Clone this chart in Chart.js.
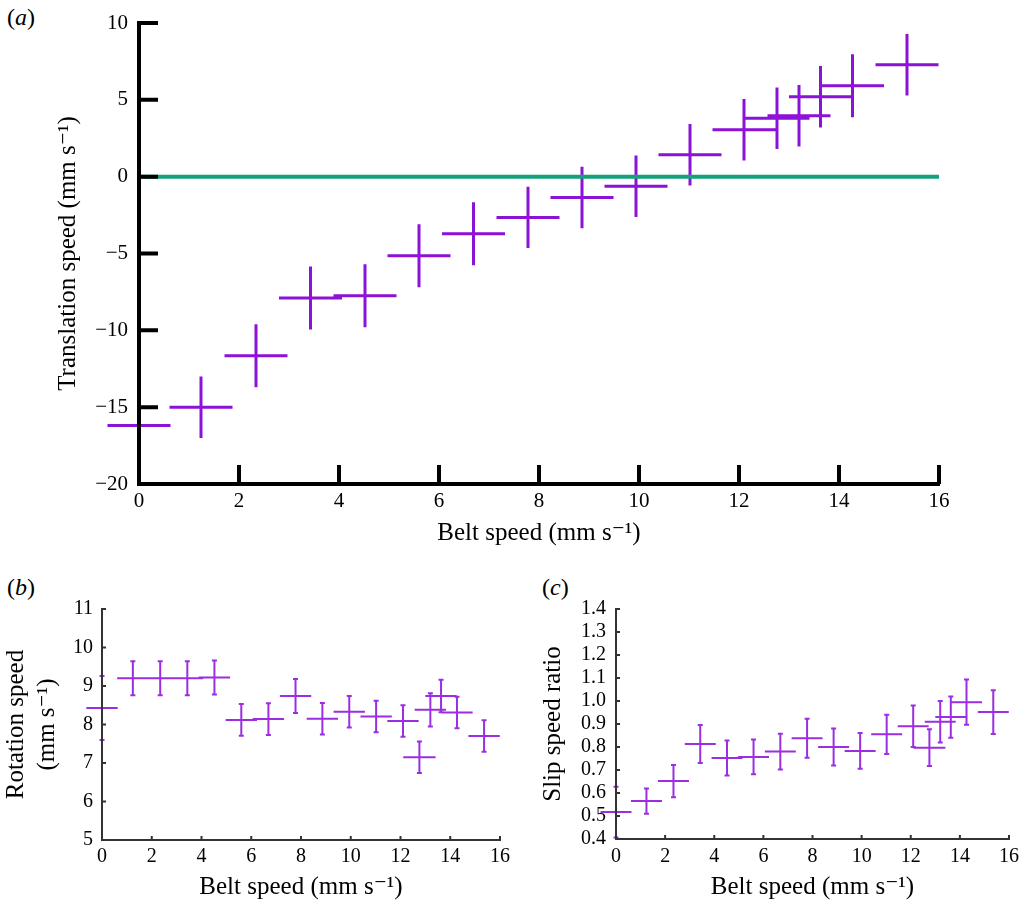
<!DOCTYPE html>
<html>
<head>
<meta charset="utf-8">
<script src="https://cdn.jsdelivr.net/npm/chart.js@4"></script>
<style>
  body { margin: 0; background: #fff; }
  #page { position: relative; width: 1025px; height: 902px; font-family: 'Liberation Serif', 'Times New Roman', 'DejaVu Serif', serif; }
  canvas { position: absolute; }
  .tag { position: absolute; font-size: 24px; color: #000; }
</style>
</head>
<body>
<div id="page">
  <div class="tag" style="left:7px;top:4px">(<i>a</i>)</div>
  <div class="tag" style="left:7px;top:574px">(<i>b</i>)</div>
  <div class="tag" style="left:542px;top:574px">(<i>c</i>)</div>
  <canvas id="chartA" width="1025" height="560" style="left:0;top:0"></canvas>
  <canvas id="chartB" width="515" height="332" style="left:0;top:570px"></canvas>
  <canvas id="chartC" width="510" height="332" style="left:515px;top:570px"></canvas>
</div>
<script>
// belt speed (shared by the three panels) and its half-range
var beltSpeed = [0, 1.24, 2.34, 3.43, 4.52, 5.6, 6.69, 7.78, 8.86, 9.94, 11.02, 12.1, 12.76, 13.2, 13.63, 14.27, 15.36];
var beltErr = [0.63, 0.63, 0.63, 0.63, 0.63, 0.63, 0.63, 0.63, 0.63, 0.63, 0.63, 0.63, 0.65, 0.63, 0.63, 0.63, 0.63];

// (a) translation speed
var transSpeed = [-16.2, -15.0, -11.65, -7.9, -7.75, -5.15, -3.72, -2.65, -1.35, -0.63, 1.43, 3.05, 3.8, 3.97, 5.2, 5.92, 7.29];
var transErr = [0.9, 2.0, 2.05, 2.05, 2.05, 2.05, 2.05, 2.0, 2.0, 2.0, 2.0, 2.0, 2.0, 2.0, 2.0, 2.05, 2.0];
var zeroLineX = [0, 16];
var zeroLineY = [0, 0];

// (b) rotation speed
var rotSpeed = [8.43, 9.2, 9.2, 9.2, 9.22, 8.12, 8.14, 8.74, 8.15, 8.33, 8.21, 8.09, 7.15, 8.38, 8.74, 8.31, 7.7];
var rotErr = [0.83, 0.44, 0.44, 0.44, 0.44, 0.41, 0.41, 0.44, 0.41, 0.41, 0.41, 0.41, 0.41, 0.43, 0.42, 0.41, 0.41];

// (c) slip speed ratio
var slipRatio = [0.517, 0.565, 0.652, 0.813, 0.752, 0.757, 0.78, 0.838, 0.8, 0.783, 0.855, 0.89, 0.797, 0.91, 0.93, 0.995, 0.952];
var slipErr = [0.11, 0.055, 0.07, 0.083, 0.076, 0.076, 0.078, 0.085, 0.08, 0.078, 0.085, 0.09, 0.08, 0.09, 0.09, 0.098, 0.095];

var unit = ' (mm s\u207B\u00B9)';
var serif = "'Liberation Serif', 'Times New Roman', 'DejaVu Serif', serif";

function points(ys) {
    return beltSpeed.map(function (x, i) { return { x: x, y: ys[i] }; });
}

// crosses: horizontal bar = belt speed range, vertical bar = value range
var errorBars = {
    id: 'errorBars',
    beforeDatasetsDraw: function (chart) {
        var ctx = chart.ctx, sx = chart.scales.x, sy = chart.scales.y;
        chart.data.datasets.forEach(function (ds) {
            if (!ds.yErr) return;
            ctx.save();
            ctx.strokeStyle = ds.borderColor;
            ctx.lineWidth = ds.errWidth;
            ctx.beginPath();
            ds.data.forEach(function (p, i) {
                var px = sx.getPixelForValue(p.x), py = sy.getPixelForValue(p.y);
                var y0 = sy.getPixelForValue(p.y - ds.yErr[i]), y1 = sy.getPixelForValue(p.y + ds.yErr[i]);
                ctx.moveTo(sx.getPixelForValue(p.x - ds.xErr[i]), py);
                ctx.lineTo(sx.getPixelForValue(p.x + ds.xErr[i]), py);
                ctx.moveTo(px, y0);
                ctx.lineTo(px, y1);
                if (ds.cap) {
                    ctx.moveTo(px - ds.cap, y0); ctx.lineTo(px + ds.cap, y0);
                    ctx.moveTo(px - ds.cap, y1); ctx.lineTo(px + ds.cap, y1);
                }
            });
            ctx.stroke();
            ctx.restore();
        });
    }
};

// tick marks pointing into the plot
var inTicks = {
    id: 'inTicks',
    afterDraw: function (chart, args, opts) {
        var ctx = chart.ctx, a = chart.chartArea, sx = chart.scales.x, sy = chart.scales.y;
        ctx.save();
        ctx.strokeStyle = opts.color;
        ctx.lineWidth = opts.width;
        ctx.beginPath();
        sx.ticks.forEach(function (t, i) {
            if (i === 0) return;
            var px = sx.getPixelForTick(i);
            ctx.moveTo(px, a.bottom); ctx.lineTo(px, a.bottom - opts.len);
        });
        sy.ticks.forEach(function (t, i) {
            if (i === 0) return;
            var py = sy.getPixelForTick(i);
            ctx.moveTo(a.left, py); ctx.lineTo(a.left + opts.len, py);
        });
        ctx.stroke();
        ctx.restore();
    }
};

function makeChart(id, c) {
    var datasets = [{
        type: 'scatter',
        data: points(c.values),
        xErr: beltErr,
        yErr: c.errors,
        borderColor: c.color,
        backgroundColor: c.color,
        errWidth: c.lineWidth,
        cap: c.cap,
        pointRadius: 0
    }];
    if (c.extra) datasets.push(c.extra);

    return new Chart(document.getElementById(id).getContext('2d'), {
        type: 'scatter',
        data: { datasets: datasets },
        plugins: [errorBars, inTicks],
        options: {
            responsive: false,
            animation: false,
            layout: { padding: c.padding },
            plugins: {
                legend: { display: false },
                tooltip: { enabled: false },
                inTicks: { color: c.axisColor, width: c.axisWidth, len: c.tickLen }
            },
            scales: {
                x: {
                    type: 'linear',
                    min: 0, max: 16,
                    afterFit: function (s) { s.height = c.xHeight; },
                    grid: { display: false, drawTicks: false },
                    border: { display: true, color: c.axisColor, width: c.axisWidth, z: 1 },
                    ticks: { stepSize: 2, autoSkip: false, maxRotation: 0, padding: c.xPad, color: '#000', font: { family: serif, size: c.tickSize } },
                    title: {
                        display: true, text: 'Belt speed' + unit, color: '#000',
                        font: { family: serif, size: 25, lineHeight: 1.2 },
                        padding: { top: 0, bottom: c.xTitlePad }
                    }
                },
                y: {
                    type: 'linear',
                    min: c.yMin, max: c.yMax,
                    afterFit: function (s) { s.width = c.yWidth; },
                    grid: { display: false, drawTicks: false },
                    border: { display: true, color: c.axisColor, width: c.axisWidth, z: 1 },
                    ticks: { stepSize: c.yStep, autoSkip: false, padding: c.yPad, color: '#000', font: { family: serif, size: c.tickSize, lineHeight: 1 }, callback: c.yFormat },
                    title: {
                        display: true, text: c.yTitle, color: '#000',
                        font: { family: serif, size: 25, lineHeight: 1.25 },
                        padding: { top: c.yTitlePad, bottom: 0 }
                    }
                }
            }
        }
    });
}

makeChart('chartA', {
    values: transSpeed, errors: transErr,
    color: '#8c12d8', lineWidth: 3, cap: 0,
    extra: {
        type: 'line',
        data: zeroLineX.map(function (x, i) { return { x: x, y: zeroLineY[i] }; }),
        borderColor: '#14a07a', borderWidth: 4, pointRadius: 0
    },
    padding: { left: 0, right: 86, top: 23, bottom: 0 },
    xHeight: 76, yWidth: 139,
    axisColor: '#000', axisWidth: 4, tickLen: 19,
    tickSize: 21, xPad: 5, yPad: 11, xTitlePad: 12,
    yMin: -20, yMax: 10, yStep: 5,
    yFormat: function (v) { return String(v).replace('-', '\u2212'); },
    yTitle: 'Translation speed' + unit, yTitlePad: 53
});

makeChart('chartB', {
    values: rotSpeed, errors: rotErr,
    color: '#9a2ee0', lineWidth: 2, cap: 2.5,
    padding: { left: 0, right: 12, top: 39, bottom: 0 },
    xHeight: 62, yWidth: 102,
    axisColor: '#333', axisWidth: 2, tickLen: 4,
    tickSize: 20, xPad: 5, yPad: 9, xTitlePad: 0,
    yMin: 5, yMax: 11, yStep: 1,
    yFormat: function (v) { return v; },
    yTitle: ['Rotation speed', unit.trim()], yTitlePad: 1
});

makeChart('chartC', {
    values: slipRatio, errors: slipErr,
    color: '#9a2ee0', lineWidth: 2, cap: 2.5,
    padding: { left: 0, right: 15, top: 39, bottom: 0 },
    xHeight: 63, yWidth: 101,
    axisColor: '#333', axisWidth: 2, tickLen: 4,
    tickSize: 20, xPad: 6, yPad: 10, xTitlePad: 0,
    yMin: 0.4, yMax: 1.4, yStep: 0.1,
    yFormat: function (v) { return v.toFixed(1); },
    yTitle: 'Slip speed ratio', yTitlePad: 23
});
</script>
</body>
</html>
